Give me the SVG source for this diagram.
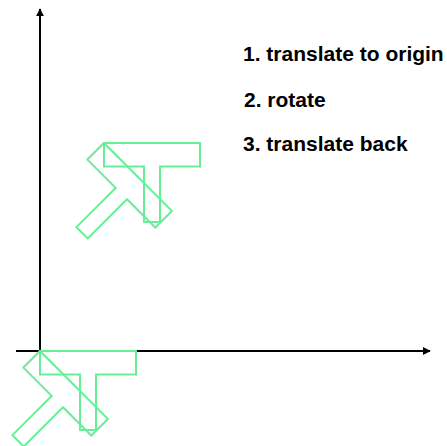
<svg xmlns="http://www.w3.org/2000/svg" xmlns:xlink="http://www.w3.org/1999/xlink" width="447" height="446" viewBox="0 0 447 446">
  <style>
    .axis { stroke: #000; stroke-width: 2; fill: none; }
    .shape { stroke: #66ee99; stroke-width: 2; fill: none; stroke-linejoin: miter; }
    .step { font-family: "Liberation Sans", Arial, sans-serif; font-weight: bold; font-size: 21px; fill: #000; }
  </style>
  <defs>
    <marker id="arrow" viewBox="0 0 10 10" refX="9" refY="5" markerWidth="4" markerHeight="4" orient="auto" markerUnits="strokeWidth">
      <path d="M0,0 L10,5 L0,10 z" fill="#000"/>
    </marker>
    <!-- T-shaped figure with its pivot at the top-left corner -->
    <path id="tee" d="M0,0 H96 V23.5 H56 V79 H40 V23.5 H0 Z"/>
  </defs>

  <!-- coordinate axes -->
  <g id="axes">
    <line class="axis" x1="40" y1="351" x2="40" y2="9" marker-end="url(#arrow)"/>
    <line class="axis" x1="16" y1="351" x2="430" y2="351" marker-end="url(#arrow)"/>
  </g>

  <!-- figure at its original position, upright and rotated -->
  <g id="figure-original" class="shape">
    <use xlink:href="#tee" transform="translate(104,143)"/>
    <use xlink:href="#tee" transform="translate(104,143) rotate(45)"/>
  </g>

  <!-- figure moved to the origin, upright and rotated -->
  <g id="figure-at-origin" class="shape">
    <use xlink:href="#tee" transform="translate(40,351)"/>
    <use xlink:href="#tee" transform="translate(40,351) rotate(45)"/>
  </g>

  <!-- steps -->
  <g id="steps">
    <text class="step" x="243" y="61">1. translate to origin</text>
    <text class="step" x="244" y="107">2. rotate</text>
    <text class="step" x="243" y="151">3. translate back</text>
  </g>
</svg>
